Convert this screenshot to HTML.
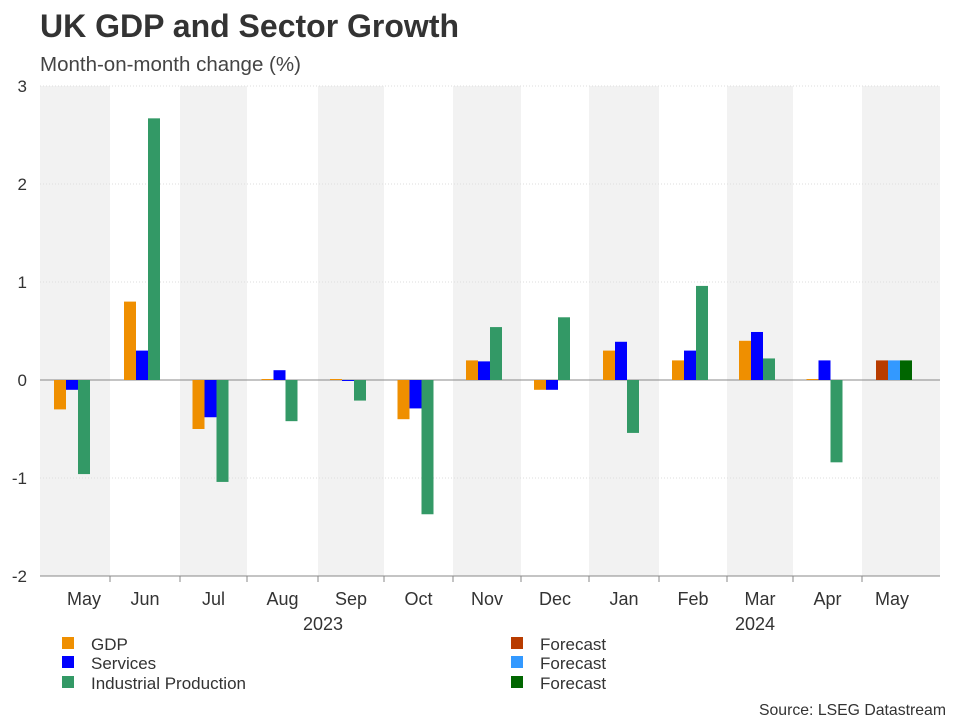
<!DOCTYPE html>
<html><head><meta charset="utf-8"><style>
body{margin:0;background:#fff;font-family:"Liberation Sans",Arial,sans-serif;}
svg text{font-family:"Liberation Sans",Arial,sans-serif;}
</style></head><body>
<svg id="c" width="960" height="720" xmlns="http://www.w3.org/2000/svg">
<text x="40" y="37" font-size="32" font-weight="bold" fill="#333">UK GDP and Sector Growth</text>
<text x="40" y="71" font-size="20.5" fill="#444">Month-on-month change (%)</text>
<g id="plot"></g>
<text x="946" y="715" font-size="15.8" fill="#333" text-anchor="end">Source: LSEG Datastream</text>
</svg>
<script>
const months=["May","Jun","Jul","Aug","Sep","Oct","Nov","Dec","Jan","Feb","Mar","Apr","May"];
const gdp=[-0.3,0.8,-0.5,0.01,0.01,-0.4,0.2,-0.1,0.3,0.2,0.4,0.01,null];
const services=[-0.1,0.3,-0.38,0.1,-0.01,-0.29,0.19,-0.1,0.39,0.3,0.49,0.2,null];
const industrial=[-0.96,2.67,-1.04,-0.42,-0.21,-1.37,0.54,0.64,-0.54,0.96,0.22,-0.84,null];
const fcGdp=[null,null,null,null,null,null,null,null,null,null,null,null,0.2];
const fcServices=[null,null,null,null,null,null,null,null,null,null,null,null,0.2];
const fcIndustrial=[null,null,null,null,null,null,null,null,null,null,null,null,0.2];
const yTicks=[3,2,1,0,-1,-2];
const years=[{label:"2023",at:4},{label:"2024",at:10}];
const bounds=[40,110,180,247,318,384,453,521,589,659,727,793,862,940];
const ns="http://www.w3.org/2000/svg";
const g=document.getElementById('plot');
const y=v=>380-v*98;
function mk(t,a){const e=document.createElementNS(ns,t);for(const k in a)e.setAttribute(k,a[k]);g.appendChild(e);return e;}
for(let i=0;i<months.length;i++){if(i%2==0){const r=mk('rect',{x:bounds[i],y:86,width:bounds[i+1]-bounds[i],height:490,fill:'#f2f2f2'});

}}
yTicks.forEach(t=>{const l=mk('line',{x1:40,x2:940,y1:y(t),y2:y(t),stroke:t==0?'#888':'#ddd','stroke-dasharray':t==0?'':'1,2'});


const tx=mk('text',{x:27,y:y(t)+6,'font-size':17,fill:'#333','text-anchor':'end'});tx.textContent=t;

});
const ax=mk('line',{x1:40,x2:940,y1:576,y2:576,stroke:'#888'});


bounds.slice(1,-1).forEach(b=>{const t=mk('line',{x1:b,x2:b,y1:576,y2:582,stroke:'#888'});

});
const series=[[gdp,'#ef8f00',-1,'bar-gdp'],[services,'#0000ff',0,'bar-services'],[industrial,'#339966',1,'bar-industrial'],
[fcGdp,'#b83c00',-1,'bar-forecast-gdp'],[fcServices,'#3399ff',0,'bar-forecast-services'],[fcIndustrial,'#006600',1,'bar-forecast-industrial']];
const n=months.length;
months.forEach((m,i)=>{let c=(bounds[i]+bounds[i+1])/2-3;if(i==n-1)c-=4;
series.forEach(s=>{const v=s[0][i];if(v==null)return;const x=c-6+s[2]*12;
const r=mk('rect',{x:x,y:Math.min(y(v),y(0)),width:12,height:Math.max(Math.abs(y(v)-y(0)),0.8),fill:s[1]});

});
let lx=c+3;if(i==0)lx=84;if(i==n-1)lx=892;
const t=mk('text',{x:lx,y:605,'font-size':18,fill:'#333','text-anchor':'middle'});t.textContent=m;

});
years.forEach(yr=>{const c=(bounds[yr.at]+bounds[yr.at+1])/2;const t=mk('text',{x:c-28*0+ (yr.at==4?-28:0)+ (yr.at==10?-5:0),y:630,'font-size':18,fill:'#333','text-anchor':'middle'});t.textContent=yr.label;

});
const leg=[["GDP",'#ef8f00',62,645],["Services",'#0000ff',62,664],["Industrial Production",'#339966',62,684],
["Forecast",'#b83c00',511,645],["Forecast",'#3399ff',511,664],["Forecast",'#006600',511,684]];
leg.forEach(l=>{const r=mk('rect',{x:l[2],y:l[3]-8,width:12,height:12,fill:l[1]});


const t=mk('text',{x:l[2]+29,y:l[3]+5,'font-size':17,fill:'#333'});t.textContent=l[0];

});
</script>
</body></html>
